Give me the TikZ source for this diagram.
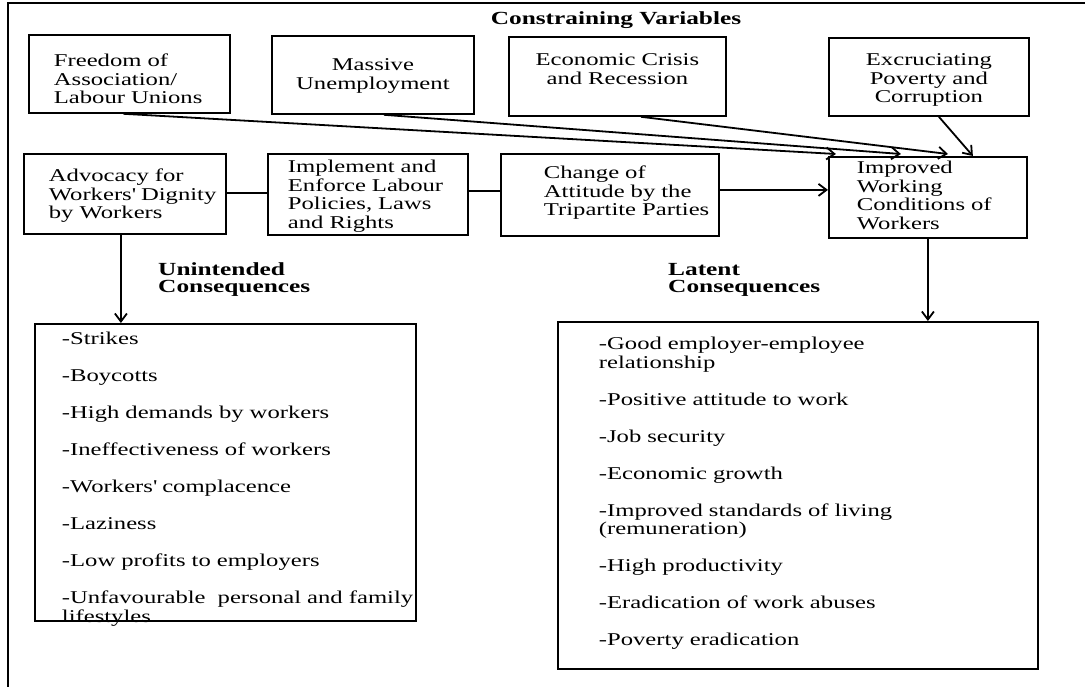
\documentclass[tikz,border=0pt]{standalone}
\usepackage{fontspec}
\setmainfont[FakeStretch=1.37]{Liberation Serif}
\usetikzlibrary{arrows.meta}

\begin{document}
\begin{tikzpicture}[
    x=1pt, y=-1pt,
    box/.style={
        draw,
        line width=1.8pt,
        anchor=north west,
        align=left,
        inner ysep=0pt,
        font=\fontsize{18}{18.5}\selectfont
    },
    head/.style={
        anchor=base west,
        align=left,
        inner sep=0pt,
        font=\fontsize{18.5}{17.5}\selectfont\bfseries
    },
    arrow/.style={-{Straight Barb[length=8pt,width=12pt]}, line width=1.8pt},
    link/.style={line width=1.8pt}
]

    \useasboundingbox (0,0) rectangle (1085,687);
    \draw[line width=1.6pt] (8,687) -- (8,3) -- (1085,3);

    % constraining variables
    \node[head, anchor=base] (cv) at (616,25) {Constraining Variables};
    \node[box, text width=151pt, inner xsep=25pt, text height=32pt, text depth=46pt] (fa) at (28,34) {Freedom of\\Association/\\\mbox{Labour Unions}};
    \node[box, align=center, text width=182pt, inner xsep=10pt, text height=35pt, text depth=43pt] (mu) at (271,35) {Massive\\Unemployment};
    \node[box, align=center, text width=197pt, inner xsep=10pt, text height=29pt, text depth=50pt] (ec) at (508,36) {Economic Crisis\\and Recession};
    \node[box, align=center, text width=180pt, inner xsep=10pt, text height=28pt, text depth=50pt] (ep) at (828,37) {Excruciating\\Poverty and\\Corruption};

    % main chain
    \node[box, text width=152pt, inner xsep=25pt, text height=28pt, text depth=52pt] (ad) at (23,153) {Advocacy for\\\mbox{Workers\textquotesingle{} Dignity}\\by Workers};
    \node[box, text width=160pt, inner xsep=20pt, text height=19pt, text depth=62pt] (ip) at (267,153) {Implement and\\\mbox{Enforce Labour}\\\mbox{Policies, Laws}\\and Rights};
    \node[box, text width=132pt, inner xsep=43pt, text height=25pt, text depth=57pt] (ch) at (500,153) {Change of\\\mbox{Attitude by the}\\\mbox{Tripartite Parties}};
    \node[box, text width=142pt, inner xsep=28pt, text height=17pt, text depth=64pt] (im) at (828,156) {Improved\\Working\\\mbox{Conditions of}\\Workers};

    % consequences
    \node[head] (uh) at (158,293) {Unintended\\Consequences};
    \node[head] (lh) at (668,293) {Latent\\Consequences};
    \node[box, text width=327pt, inner xsep=27pt, text height=21pt, text depth=276pt] (un) at (34,323) {-Strikes\\[18.5pt]
        -Boycotts\\[18.5pt]
        -High demands by workers\\[18.5pt]
        -Ineffectiveness of workers\\[18.5pt]
        -Workers\textquotesingle{} complacence\\[18.5pt]
        -Laziness\\[18.5pt]
        -Low profits to employers\\[18.5pt]
        \mbox{-Unfavourable\ \ personal and family}\\lifestyles};
    \node[box, text width=398pt, inner xsep=41pt, text height=28pt, text depth=319pt] (lt) at (557,321) {-Good employer-employee\\relationship\\[18.5pt]
        -Positive attitude to work\\[18.5pt]
        -Job security\\[18.5pt]
        -Economic growth\\[18.5pt]
        -Improved standards of living\\(remuneration)\\[18.5pt]
        -High productivity\\[18.5pt]
        -Eradication of work abuses\\[18.5pt]
        -Poverty eradication};

    \draw[arrow] ([xshift=-6pt]fa.south) -- ([xshift=-92pt,yshift=2pt]im.north);
    \draw[arrow] ([xshift=11pt]mu.south) -- ([xshift=-27pt,yshift=2pt]im.north);
    \draw[arrow] ([xshift=23.5pt]ec.south) -- ([xshift=20pt,yshift=2pt]im.north);
    \draw[arrow] ([xshift=10pt]ep.south) -- ([xshift=45pt]im.north);

    \draw[link] ([yshift=1pt]ad.east) -- ([yshift=1pt]ad.east -| ip.west);
    \draw[link] ([yshift=3.5pt]ip.east) -- ([yshift=3.5pt]ip.east -| ch.west);
    \draw[arrow] ([yshift=5pt]ch.east) -- ([yshift=5pt]ch.east -| im.west);

    \draw[arrow] ([xshift=-4pt]ad.south) -- ([xshift=-4pt]ad.south |- un.north);
    \draw[arrow] (im.south) -- (im.south |- lt.north);

\end{tikzpicture}
\end{document}
